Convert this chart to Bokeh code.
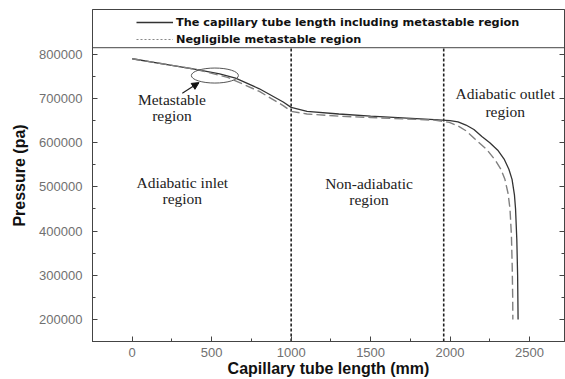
from bokeh.plotting import figure
from bokeh.models import (Range1d, FixedTicker, LinearAxis, Legend, LegendItem, Span, Arrow,
                          NormalHead, NumeralTickFormatter, CustomJSTickFormatter)
from bokeh.core.properties import value
from bokeh.embed import file_html
from bokeh.resources import INLINE

# Data
solid_x = [0, 200, 400, 550, 650, 800, 950, 1000, 1100, 1300, 1500, 1700, 1900, 2000, 2050, 2100, 2150, 2200, 2250, 2300, 2340, 2370, 2390, 2405, 2412, 2420, 2425, 2428]
solid_y = [790000, 778000, 766000, 756000, 746000, 722000, 692000, 680000, 671000, 665000, 660000, 656000, 652000, 650000, 647000, 640000, 630000, 614000, 600000, 583000, 563000, 540000, 517000, 482000, 450000, 380000, 300000, 200000]
dash_x = [0, 200, 400, 600, 800, 950, 1000, 1100, 1300, 1500, 1700, 1900, 1995, 2050, 2100, 2160, 2230, 2285, 2320, 2345, 2365, 2377, 2386, 2391, 2394, 2395]
dash_y = [790000, 778000, 766000, 748000, 716000, 684000, 671000, 665000, 660000, 657000, 654000, 651000, 646000, 638000, 627000, 607000, 585000, 560000, 540000, 517000, 485000, 450000, 390000, 320000, 250000, 200000]
series_names = ["The capillary tube length including metastable region", "Negligible metastable region"]
region_bounds = [1000, 1960]
x_ticks = [0, 500, 1000, 1500, 2000, 2500]
x_minor = [-250, 250, 750, 1250, 1750, 2250, 2750]
y_ticks = [200000, 300000, 400000, 500000, 600000, 700000, 800000]
y_minor = [150000, 250000, 350000, 450000, 550000, 650000, 750000]
label_text = ["Metastable", "region", "Adiabatic inlet", "region", "Non-adiabatic", "region", "Adiabatic outlet", "region"]
label_x = [250, 250, 315, 315, 1490, 1490, 2347, 2347]
label_y = [697000, 661000, 510000, 474000, 508000, 472000, 712000, 670000]
ellipse_center = (520, 752000)
ellipse_size = (296, 34000)
arrow_from = (315, 712000)
arrow_to = (420, 736000)
legend_sep = 815000

p = figure(width=565, height=379, output_backend="svg", toolbar_location=None,
           x_range=Range1d(-250, 2720), y_range=Range1d(150000, 901500),
           min_border_left=92, min_border_right=1, min_border_top=9, min_border_bottom=37)
p.grid.visible = False
p.background_fill_color = "white"
p.border_fill_color = "white"
p.outline_line_color = "#444444"
p.outline_line_width = 1

for ax in (p.xaxis[0], p.yaxis[0]):
    ax.major_tick_in = 5
    ax.major_tick_out = 0
    ax.minor_tick_in = 3
    ax.minor_tick_out = 0
    ax.axis_line_color = "#444444"
    ax.major_tick_line_color = "#444444"
    ax.minor_tick_line_color = "#444444"
    ax.major_label_text_font = "Liberation Sans"
    ax.major_label_text_font_size = "13px"
    ax.major_label_text_color = "#707070"
    ax.axis_label_text_font = "Liberation Sans"
    ax.axis_label_text_font_style = "bold"
    ax.axis_label_text_color = "#111111"

p.xaxis[0].ticker = FixedTicker(ticks=x_ticks, minor_ticks=x_minor)
p.yaxis[0].ticker = FixedTicker(ticks=y_ticks, minor_ticks=y_minor)
p.yaxis[0].formatter = NumeralTickFormatter(format="0")
p.xaxis[0].axis_label = "Capillary tube length (mm)"
p.xaxis[0].axis_label_text_font_size = "16px"
p.xaxis[0].axis_label_standoff = 0
p.xaxis[0].major_label_standoff = 6
p.yaxis[0].axis_label = "Pressure (pa)"
p.yaxis[0].axis_label_text_font_size = "16px"
p.yaxis[0].major_label_standoff = 10
p.yaxis[0].axis_label_standoff = 8

rax = LinearAxis(ticker=FixedTicker(ticks=y_ticks, minor_ticks=y_minor),
                 formatter=CustomJSTickFormatter(code="return ''"),
                 major_tick_in=5, major_tick_out=0, minor_tick_in=3, minor_tick_out=0,
                 major_label_standoff=0,
                 axis_line_color="#444444", major_tick_line_color="#444444", minor_tick_line_color="#444444")
p.add_layout(rax, "right")

# legend separator
p.add_layout(Span(location=legend_sep, dimension="width", line_color="#444444", line_width=1))

# region boundaries
p.segment(x0=region_bounds, x1=region_bounds, y0=[p.y_range.start] * 2, y1=[legend_sep] * 2,
          line_color="#222222", line_width=1.6, line_dash="3 2")

r_solid = p.line(solid_x, solid_y, line_color="#333333", line_width=1.3)
r_dash = p.line(dash_x, dash_y, line_color="#808080", line_width=1.4, line_dash="9 4")
r_leg_dash = p.line([float("nan")], [float("nan")], line_color="#888888", line_width=1.2, line_dash="2 2")

p.ellipse(x=[ellipse_center[0]], y=[ellipse_center[1]], width=ellipse_size[0], height=ellipse_size[1],
          fill_color=None, line_color="#555555", line_width=1)
p.add_layout(Arrow(end=NormalHead(size=7, fill_color="#111111", line_color="#111111"),
                   x_start=arrow_from[0], y_start=arrow_from[1], x_end=arrow_to[0], y_end=arrow_to[1],
                   line_color="#222222", line_width=1.2))

p.text(x=label_x, y=label_y, text=label_text, text_align="center", text_baseline="middle",
       text_font=value("Liberation Serif"), text_font_size="15.5px", text_color="#222222")

legend = Legend(items=[LegendItem(label=series_names[0], renderers=[r_solid]),
                       LegendItem(label=series_names[1], renderers=[r_leg_dash])],
                location=(44, 295), padding=2, spacing=3, label_height=14, glyph_height=14,
                glyph_width=37, label_standoff=3, border_line_color=None, background_fill_alpha=0,
                label_text_font="DejaVu Sans", label_text_font_style="bold",
                label_text_font_size="11.3px", label_text_color="#111111")
p.add_layout(legend)

open("out.html", "w").write(file_html(p, INLINE))
